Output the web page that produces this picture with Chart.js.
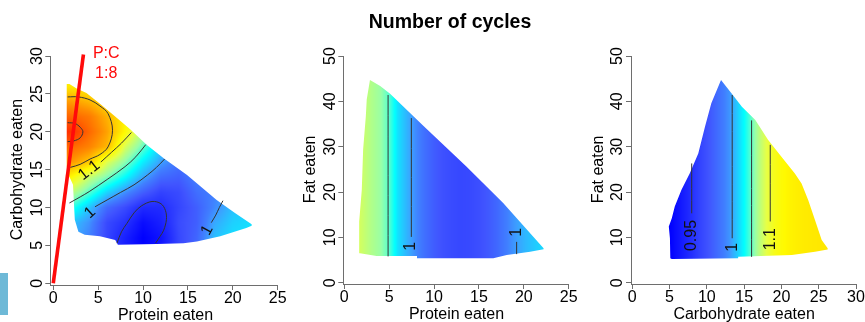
<!DOCTYPE html>
<html>
<head>
<meta charset="utf-8">
<script src="https://cdn.jsdelivr.net/npm/chart.js@4.4.1/dist/chart.umd.min.js"></script>
<style>
html,body{margin:0;padding:0;background:#fff;width:865px;height:322px;overflow:hidden;}
#wrap{position:relative;width:865px;height:322px;}
canvas{position:absolute;left:0;top:0;}
#edge{position:absolute;left:0;top:273px;width:8px;height:42px;background:#6eb9d7;}
</style>
</head>
<body>
<div id="wrap">
  <div id="edge"></div>
  <canvas id="c1" width="865" height="322"></canvas>
  <canvas id="c2" width="865" height="322"></canvas>
  <canvas id="c3" width="865" height="322"></canvas>
</div>
<script>
// ================= DATA =================
const TITLE = 'Number of cycles';

// Tick labels
const X_TICKS_P = [0, 5, 10, 15, 20, 25];
const X_TICKS_C = [0, 5, 10, 15, 20, 25, 30];
const Y_TICKS_C = [0, 5, 10, 15, 20, 25, 30];
const Y_TICKS_F = [0, 10, 20, 30, 40, 50];

// ---- Panel 1 : protein x carbohydrate surface ----
const P1_PROTEIN = [0, 2, 4, 6, 8, 10, 12, 14, 16, 18, 20, 22, 24];
const P1_CARB = [4, 6, 8, 10, 12, 14, 16, 18, 20, 22, 24, 26, 28];
// rows = carbohydrate (4 .. 28), columns = protein (0 .. 24)
const P1_CYCLES = [
  [1.000,1.000,0.985,0.962,0.938,0.922,0.935,0.962,0.980,1.015,1.025,1.030,1.030],
  [1.005,1.005,0.990,0.962,0.940,0.920,0.932,0.963,0.978,1.010,1.020,1.022,1.025],
  [1.012,1.012,0.996,0.964,0.951,0.928,0.940,0.965,0.975,1.003,1.015,1.020,1.022],
  [1.040,1.040,1.012,0.980,0.965,0.946,0.947,0.962,0.975,0.993,1.010,1.015,1.018],
  [1.075,1.075,1.047,1.017,0.995,0.975,0.960,0.965,0.982,0.990,1.005,1.010,1.012],
  [1.115,1.115,1.078,1.055,1.030,1.002,0.980,0.975,0.990,0.990,1.000,1.005,1.005],
  [1.165,1.165,1.142,1.088,1.058,1.025,1.000,0.985,0.995,0.995,1.000,1.000,1.000],
  [1.190,1.190,1.175,1.150,1.085,1.050,1.015,0.995,1.000,1.000,1.000,1.000,1.000],
  [1.225,1.225,1.190,1.160,1.115,1.070,1.030,1.000,1.000,1.000,1.000,1.000,1.000],
  [1.192,1.192,1.180,1.152,1.120,1.080,1.035,1.005,1.000,1.000,1.000,1.000,1.000],
  [1.162,1.162,1.150,1.130,1.100,1.070,1.040,1.010,1.000,1.000,1.000,1.000,1.000],
  [1.125,1.125,1.118,1.100,1.080,1.060,1.040,1.010,1.000,1.000,1.000,1.000,1.000],
  [1.100,1.100,1.090,1.070,1.060,1.050,1.040,1.010,1.000,1.000,1.000,1.000,1.000]
];
const P1_REGION = [[1.5,26.3],[1.8,26.3],[2.6,25.7],[3.7,25.1],[5.2,23.7],[6.7,22.2],[8.6,20.3],[10.4,18.3],[12.3,16.5],[14.9,14.3],[18.2,11.0],[20.2,9.3],[22.1,7.8],[22.1,7.6],[21.5,7.3],[18.6,6.2],[16.0,5.5],[14.5,5.3],[11.5,5.2],[7.2,5.1],[6.9,5.7],[5.2,6.2],[3.5,6.4],[2.8,6.8],[2.4,8.4],[2.3,10.6],[2.2,13.0],[1.9,13.8],[1.6,14.5],[1.5,15.5]];
const P1_CONTOURS = [
  [[7.1,5.3],[7.6,6.8],[8.2,7.9],[9.0,9.3],[9.8,10.2],[11.0,10.8],[12.0,10.5],[12.5,9.6],[12.6,8.4],[12.3,7.0],[11.9,6.2],[11.4,5.3]],
  [[4.65,10.1],[6.0,11.0],[7.5,12.0],[9.0,13.0],[10.5,14.3],[11.5,15.3],[12.4,16.4]],
  [[18.9,10.9],[18.5,10.0],[18.1,9.0],[17.6,8.0]],
  [[1.8,10.6],[3.0,11.4],[4.0,12.1],[6.0,13.7],[8.0,15.4],[9.2,16.7],[10.3,18.3]],
  [[5.3,16.0],[6.5,17.3],[7.6,18.5],[8.7,19.9]],
  [[1.6,24.6],[2.8,24.6],[4.1,24.2],[5.2,23.4],[6.1,22.4],[6.6,20.2],[6.1,18.0],[5.2,17.0],[4.1,16.4],[3.0,15.7],[1.9,15.3]],
  [[1.6,21.2],[2.4,21.1],[3.0,20.6],[3.3,20.0],[3.0,19.2],[2.3,18.8],[1.6,18.7]]
];
const P1_LABELS = [
  {text:'1.1', x:4.0, y:14.9, angle:-38},
  {text:'1', x:4.1, y:9.3, angle:-42},
  {text:'1', x:17.15, y:7.0, angle:-62}
];
const P1_RATIO_LINE = [[0,0],[3.36,30.2]];
const P1_RATIO_TEXT = ['P:C', '1:8'];

// ---- Panel 2 : protein x fat (varies with protein only) ----
const P2_PROTEIN = [0,1,2,3,4,5,6,7,8,9,10,11,12,13,14,15,16,17,18,19,20,21,22,23];
const P2_CYCLES = [1.095,1.090,1.080,1.070,1.062,1.047,1.020,1.006,0.993,0.982,0.974,0.968,0.965,0.963,0.964,0.967,0.972,0.979,0.988,0.998,1.006,1.012,1.017,1.020];
const P2_REGION = [[2.86,44.7],[4.0,43.4],[5.1,41.7],[8.8,34.6],[13.6,25.6],[17.7,17.6],[22.2,7.6],[22.2,7.4],[20.7,6.8],[18.1,6.1],[16.6,5.4],[8.1,5.4],[8.1,5.9],[3.6,5.9],[1.75,6.5],[1.66,6.5],[1.66,13.5],[1.95,20.5],[2.1,29.4],[2.4,36.7],[2.5,40.4]];
const P2_CONTOURS = [
  [[4.88,5.8],[4.88,41.4]],
  [[7.47,10.1],[7.47,36.3]],
  [[19.2,6.3],[19.2,9.0]]
];
const P2_LABELS = [
  {text:'1', x:7.4, y:8.0, angle:-90},
  {text:'1', x:19.25, y:11.1, angle:-90}
];

// ---- Panel 3 : carbohydrate x fat (varies with carbohydrate only) ----
const P3_CARB = [3,4,5,6,7,8,9,10,11,12,13,14,15,16,17,18,19,20,21,22,23,24,25,26,27];
const P3_CYCLES = [0.912,0.915,0.920,0.930,0.940,0.950,0.960,0.968,0.977,0.986,0.996,1.012,1.030,1.050,1.072,1.090,1.105,1.113,1.118,1.121,1.123,1.124,1.125,1.125,1.125];
const P3_REGION = [[11.9,44.7],[13.3,41.8],[14.7,38.8],[16.5,35.9],[18.2,31.5],[20.0,27.8],[21.8,24.1],[22.7,21.9],[23.6,18.2],[24.5,13.8],[25.4,9.4],[26.2,7.6],[26.2,7.3],[24.5,6.8],[21.4,6.1],[14.2,5.7],[14.2,5.4],[5.3,5.2],[5.1,5.4],[5.05,9.8],[4.9,12.4],[5.3,14.2],[5.7,16.8],[6.6,20.5],[7.7,24.1],[8.85,28.5],[9.75,34.4],[10.6,39.6]];
const P3_CONTOURS = [
  [[7.97,15.3],[7.97,26.3]],
  [[13.4,9.8],[13.4,41.4]],
  [[16.0,5.7],[16.0,35.8]],
  [[18.5,13.5],[18.5,30.4]]
];
const P3_LABELS = [
  {text:'0.95', x:7.97, y:10.4, angle:-90},
  {text:'1', x:13.4, y:7.8, angle:-90},
  {text:'1.1', x:18.5, y:9.6, angle:-90}
];

// ================= STYLE =================
const FONT = '"Liberation Sans", Arial, Helvetica, sans-serif';
const AXIS_COLOR = '#6e6e6e';
const CONTOUR_COLOR = '#333333';
const RATIO_COLOR = '#ff0a0a';
const CMAP_AT = [0.92,0.95,0.97,0.99,1.00,1.03,1.06,1.09,1.115,1.14,1.17,1.20,1.23];
const CMAP_RGB = [[0,0,255],[36,48,255],[64,84,255],[64,128,255],[60,160,255],[0,255,255],[150,255,170],[230,255,70],[255,250,0],[255,205,0],[255,140,0],[255,85,0],[255,40,0]];

function colorFor(v){
  if (v <= CMAP_AT[0]) return CMAP_RGB[0];
  const n = CMAP_AT.length;
  if (v >= CMAP_AT[n-1]) return CMAP_RGB[n-1];
  let i = 0; while (v > CMAP_AT[i+1]) i++;
  const t = (v - CMAP_AT[i]) / (CMAP_AT[i+1] - CMAP_AT[i]);
  const a = CMAP_RGB[i], b = CMAP_RGB[i+1];
  return [a[0]+(b[0]-a[0])*t, a[1]+(b[1]-a[1])*t, a[2]+(b[2]-a[2])*t];
}
function locate(arr, v){
  if (v <= arr[0]) return [0, 0];
  if (v >= arr[arr.length-1]) return [arr.length-2, 1];
  let i = 0; while (v > arr[i+1]) i++;
  return [i, (v-arr[i])/(arr[i+1]-arr[i])];
}
function sampleGrid(xs, ys, z){
  return (vx, vy) => {
    const [i, tx] = locate(xs, vx), [j, ty] = locate(ys, vy);
    const a = z[j][i], b = z[j][i+1], c = z[j+1][i], d = z[j+1][i+1];
    return (a*(1-tx)+b*tx)*(1-ty) + (c*(1-tx)+d*tx)*ty;
  };
}
function sampleLine(xs, vals){
  return (vx) => { const [i, t] = locate(xs, vx); return vals[i]*(1-t)+vals[i+1]*t; };
}

function buildPanel(id, p){
  const W = 865, H = 322, YW = 10, XH = 10;
  const datasets = [];
  if (p.ratio){
    datasets.push({data: p.ratio.map(([x,y])=>({x,y})), showLine:true, borderColor:RATIO_COLOR, borderWidth:3.6,
      pointRadius:0, pointHoverRadius:0, clip:false, order:0, borderCapStyle:'butt'});
  }
  p.contours.forEach(c => datasets.push({data: c.map(([x,y])=>({x,y})), showLine:true, borderColor:CONTOUR_COLOR,
    borderWidth:1, pointRadius:0, pointHoverRadius:0, tension:0.35, order:1}));

  const heat = {
    id: 'heat_'+id,
    beforeDatasetsDraw(chart){
      const {ctx, scales:{x, y}} = chart;
      const pts = p.region.map(([a,b]) => [x.getPixelForValue(a), y.getPixelForValue(b)]);
      const x0 = Math.floor(Math.min(...pts.map(q=>q[0]))) - 1, x1 = Math.ceil(Math.max(...pts.map(q=>q[0]))) + 1;
      const y0 = Math.floor(Math.min(...pts.map(q=>q[1]))) - 1, y1 = Math.ceil(Math.max(...pts.map(q=>q[1]))) + 1;
      const w = x1-x0, h = y1-y0;
      const off = document.createElement('canvas'); off.width = w; off.height = h;
      const o = off.getContext('2d'); const img = o.createImageData(w, h);
      for (let j=0;j<h;j++){
        const vy = y.getValueForPixel(y0+j+0.5);
        for (let i=0;i<w;i++){
          const vx = x.getValueForPixel(x0+i+0.5);
          const col = colorFor(p.sample(vx, vy));
          const k = (j*w+i)*4;
          img.data[k]=col[0]; img.data[k+1]=col[1]; img.data[k+2]=col[2]; img.data[k+3]=255;
        }
      }
      o.putImageData(img, 0, 0);
      ctx.save();
      ctx.beginPath();
      pts.forEach((q,i)=> i ? ctx.lineTo(q[0],q[1]) : ctx.moveTo(q[0],q[1]));
      ctx.closePath(); ctx.clip();
      ctx.drawImage(off, x0, y0);
      ctx.restore();
    }
  };

  const text = {
    id: 'text_'+id,
    afterDatasetsDraw(chart){
      const {ctx, chartArea:ca, scales:{x, y}} = chart;
      ctx.save();
      ctx.fillStyle = '#000';
      ctx.textAlign = 'center';
      ctx.textBaseline = 'alphabetic';
      ctx.font = '16px ' + FONT;
      p.xTicks.forEach(v => ctx.fillText(String(v), x.getPixelForValue(v), ca.bottom + 17.7));
      p.yTicks.forEach(v => { ctx.save(); ctx.translate(ca.left - 8.8, y.getPixelForValue(v)); ctx.rotate(-Math.PI/2); ctx.fillText(String(v),0,0); ctx.restore(); });
      ctx.fillText(p.xTitle, (x.getPixelForValue(p.xTicks[0]) + x.getPixelForValue(p.xTicks[p.xTicks.length-1]))/2, ca.bottom + 35);
      ctx.save(); ctx.translate(ca.left - 28, (y.getPixelForValue(p.yTicks[0]) + y.getPixelForValue(p.yTicks[p.yTicks.length-1]))/2); ctx.rotate(-Math.PI/2); ctx.fillText(p.yTitle,0,0); ctx.restore();
      // contour labels
      ctx.fillStyle = '#111';
      ctx.textBaseline = 'middle';
      p.labels.forEach(l => { ctx.save(); ctx.translate(x.getPixelForValue(l.x), y.getPixelForValue(l.y)); ctx.rotate(l.angle*Math.PI/180); ctx.fillText(l.text,0,0); ctx.restore(); });
      if (p.ratioText){
        ctx.fillStyle = RATIO_COLOR; ctx.textBaseline = 'alphabetic';
        const tx = x.getPixelForValue(p.ratioTextAt[0]), ty = y.getPixelForValue(p.ratioTextAt[1]);
        ctx.fillText(p.ratioText[0], tx, ty - 4.7);
        ctx.fillText(p.ratioText[1], tx, ty + 15.3);
      }
      if (p.title){
        ctx.fillStyle = '#000'; ctx.textBaseline = 'alphabetic';
        ctx.font = 'bold 19.5px ' + FONT;
        ctx.fillText(p.title, 450, 28.3);
      }
      ctx.restore();
    }
  };

  const axisCommon = (ticks) => ({
    type:'linear',
    afterBuildTicks: s => { s.ticks = ticks.map(v => ({value:v})); },
    ticks:{display:false},
    grid:{display:true, drawOnChartArea:false, drawTicks:true, tickLength:5, color:AXIS_COLOR, lineWidth:1},
    border:{display:true, color:AXIS_COLOR, width:1}
  });

  new Chart(document.getElementById(id), {
    type:'scatter',
    data:{datasets},
    options:{
      responsive:false, animation:false, devicePixelRatio:1, events:[],
      layout:{padding:{left:p.area.left-YW, right:W-p.area.right, top:p.area.top, bottom:H-p.area.bottom-XH}},
      plugins:{legend:{display:false}, tooltip:{enabled:false}, title:{display:false}},
      scales:{
        x: Object.assign(axisCommon(p.xTicks), {min:p.xMin, max:p.xMax, afterFit: s => { s.height = XH; }}),
        y: Object.assign(axisCommon(p.yTicks), {min:p.yMin, max:p.yMax, afterFit: s => { s.width = YW; }})
      }
    },
    plugins:[heat, text]
  });
}

buildPanel('c1', {
  area:{left:50.3, right:277.7, top:56, bottom:285},
  xMin:-0.33, xMax:25, yMin:-0.225, yMax:30,
  xTicks:X_TICKS_P, yTicks:Y_TICKS_C,
  xTitle:'Protein eaten', yTitle:'Carbohydrate eaten',
  region:P1_REGION, sample:sampleGrid(P1_PROTEIN, P1_CARB, P1_CYCLES),
  contours:P1_CONTOURS, labels:P1_LABELS,
  ratio:P1_RATIO_LINE, ratioText:P1_RATIO_TEXT, ratioTextAt:[5.9, 29.1]
});
buildPanel('c2', {
  area:{left:343.3, right:568.7, top:56, bottom:284},
  xMin:-0.11, xMax:25, yMin:-0.29, yMax:50,
  xTicks:X_TICKS_P, yTicks:Y_TICKS_F,
  xTitle:'Protein eaten', yTitle:'Fat eaten',
  region:P2_REGION, sample:(vx) => sampleLine(P2_PROTEIN, P2_CYCLES)(vx),
  contours:P2_CONTOURS, labels:P2_LABELS, title:TITLE
});
buildPanel('c3', {
  area:{left:631, right:856, top:56, bottom:284},
  xMin:-0.17, xMax:30, yMin:-0.29, yMax:50,
  xTicks:X_TICKS_C, yTicks:Y_TICKS_F,
  xTitle:'Carbohydrate eaten', yTitle:'Fat eaten',
  region:P3_REGION, sample:(vx) => sampleLine(P3_CARB, P3_CYCLES)(vx),
  contours:P3_CONTOURS, labels:P3_LABELS
});
</script>
</body>
</html>
